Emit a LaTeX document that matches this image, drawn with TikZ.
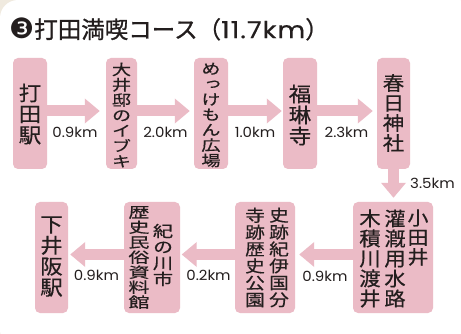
\documentclass[tikz,border=0pt]{standalone}
\usepackage{fontspec}
\usetikzlibrary{arrows.meta}
\newfontfamily\jpa[RawFeature={+vert},FakeStretch=1.1,FakeBold=0.5]{Noto Sans CJK JP}
\newfontfamily\jpm[RawFeature={+vert},FakeStretch=1.2,FakeBold=0.5]{Noto Sans CJK JP}
\newfontfamily\jpn[RawFeature={+vert},FakeStretch=1.3,FakeBold=0.5]{Noto Sans CJK JP}
\newfontfamily\jpw[RawFeature={+vert},FakeStretch=1.45,FakeBold=0.5]{Noto Sans CJK JP}
\newfontfamily\jpt[FakeBold=1]{Noto Sans CJK JP}
\newfontfamily\dejav{DejaVu Sans}
\newfontfamily\labf[FakeStretch=1.07]{Poppins}
\newfontfamily\labt[FakeStretch=1.15,LetterSpace=4,FakeBold=0.3]{Poppins}
\definecolor{pk}{RGB}{235,187,198}
\definecolor{tx}{RGB}{35,30,30}
\definecolor{bgc}{RGB}{240,234,223}
\newcommand\vf[3]{#1\fontsize{#2}{#3}\selectfont\lineskiplimit=-30pt\lineskip=0pt}
\tikzset{
  box/.style={fill=pk, rounded corners=5pt, inner sep=0pt, minimum height=111pt},
  vt/.style={inner sep=0pt, align=center, text=tx},
  lab/.style={inner sep=0pt, text=tx, font=\labf\fontsize{14}{14}\selectfont},
  arr/.style={draw=pk, line width=11pt, -{Triangle[length=15pt,width=24pt]}}
}
\begin{document}
\begin{tikzpicture}[x=1pt,y=-1pt]
\useasboundingbox (0,0) rectangle (461,334);
\clip (0,0) rectangle (461,334);
\fill[bgc] (0,0) rectangle (461,334);
\fill[white, rounded corners=18pt] (0,0) rectangle (476,348);

% title
\node[anchor=west, inner sep=0pt, text=tx, font=\fontsize{23.5}{23.5}\selectfont] (title) at (9,29)
  {{\dejav\fontsize{28}{28}\selectfont ❸}{\jpt 打田満喫コース（}{\labt 11.7km}{\jpt ）}};

% top row boxes
\node[box, minimum width=34pt] (b1) at (30,113.5) {};
\node[box, minimum width=31pt] (b2) at (121.5,113.5) {};
\node[box, minimum width=34pt] (b3) at (211,113.5) {};
\node[box, minimum width=34pt] (b4) at (300,113.5) {};
\node[box, minimum width=33pt] (b5) at (393.5,113.5) {};

\node[vt, font={\vf\jpa{20.4}{21}}] (b1t) at (30,114) {打\\田\\駅};
\node[vt, font={\vf\jpn{14.8}{15.3}}] (b2t) at (121.5,115) {大\\井\\邸\\の\\イ\\ブ\\キ};
\node[vt, font={\vf\jpn{14.8}{15.3}}] (b3t) at (211,115) {め\\っ\\け\\も\\ん\\広\\場};
\node[vt, font={\vf\jpa{20.4}{21}}] (b4t) at (300,115) {福\\琳\\寺};
\node[vt, font={\vf\jpa{19.4}{20}}] (b5t) at (393.5,113) {春\\日\\神\\社};

% bottom row boxes
\node[box, minimum width=33pt] (c1) at (51.5,257.5) {};
\node[box, minimum width=56pt] (c2) at (152,257.5) {};
\node[box, minimum width=60pt] (c3) at (265,257.5) {};
\node[box, minimum width=80pt] (c4) at (393,257.5) {};

\node[vt, font={\vf\jpa{20.4}{21}}] (c1t) at (51.5,256.5) {下\\井\\阪\\駅};
\node[vt, font={\vf\jpn{15.5}{16}}] (c2a) at (163,255) {紀\\の\\川\\市};
\node[vt, font={\vf\jpw{14.5}{15}}] (c2b) at (139,257.5) {歴\\史\\民\\俗\\資\\料\\館};
\node[vt, font={\vf\jpm{16.4}{16.9}}] (c3a) at (279,257.5) {史\\跡\\紀\\伊\\国\\分};
\node[vt, font={\vf\jpm{16.4}{16.9}}] (c3b) at (255,257.5) {寺\\跡\\歴\\史\\公\\園};
\node[vt, font={\vf\jpa{19}{19.5}}] (c4a) at (418,237.5) {小\\田\\井};
\node[vt, font={\vf\jpa{19.4}{20}}] (c4b) at (395,258.5) {灌\\漑\\用\\水\\路};
\node[vt, font={\vf\jpa{19.4}{20}}] (c4c) at (370,258.5) {木\\積\\川\\渡\\井};

% arrows
\draw[arr, shorten >=6pt] ([yshift=2.5pt]b1.east) -- ([yshift=2.5pt]b2.west);
\draw[arr, shorten >=4pt] ([yshift=2.5pt]b2.east) -- ([yshift=2.5pt]b3.west);
\draw[arr, shorten >=1pt] ([yshift=2.5pt]b3.east) -- ([yshift=2.5pt]b4.west);
\draw[arr, shorten >=4pt] ([yshift=2.5pt]b4.east) -- ([yshift=2.5pt]b5.west);
\draw[arr, shorten >=4pt] (b5.south) -- (b5.south |- c4.north);
\draw[arr, shorten >=4pt] ([yshift=3pt]c4.west) -- ([yshift=3pt]c3.east);
\draw[arr, shorten >=1.5pt] ([yshift=3pt]c3.west) -- ([yshift=3pt]c2.east);
\draw[arr, shorten >=2pt] ([yshift=3pt]c2.west) -- ([yshift=3pt]c1.east);

% distance labels
\node[lab] (l1) at (75,132) {0.9km};
\node[lab] (l2) at (165.5,132) {2.0km};
\node[lab] (l3) at (255,132) {1.0km};
\node[lab] (l4) at (346.5,132) {2.3km};
\node[lab] (l5) at (432.5,183) {3.5km};
\node[lab] (l6) at (325,276) {0.9km};
\node[lab] (l7) at (208.5,275) {0.2km};
\node[lab] (l8) at (96.5,275) {0.9km};
\end{tikzpicture}
\end{document}
